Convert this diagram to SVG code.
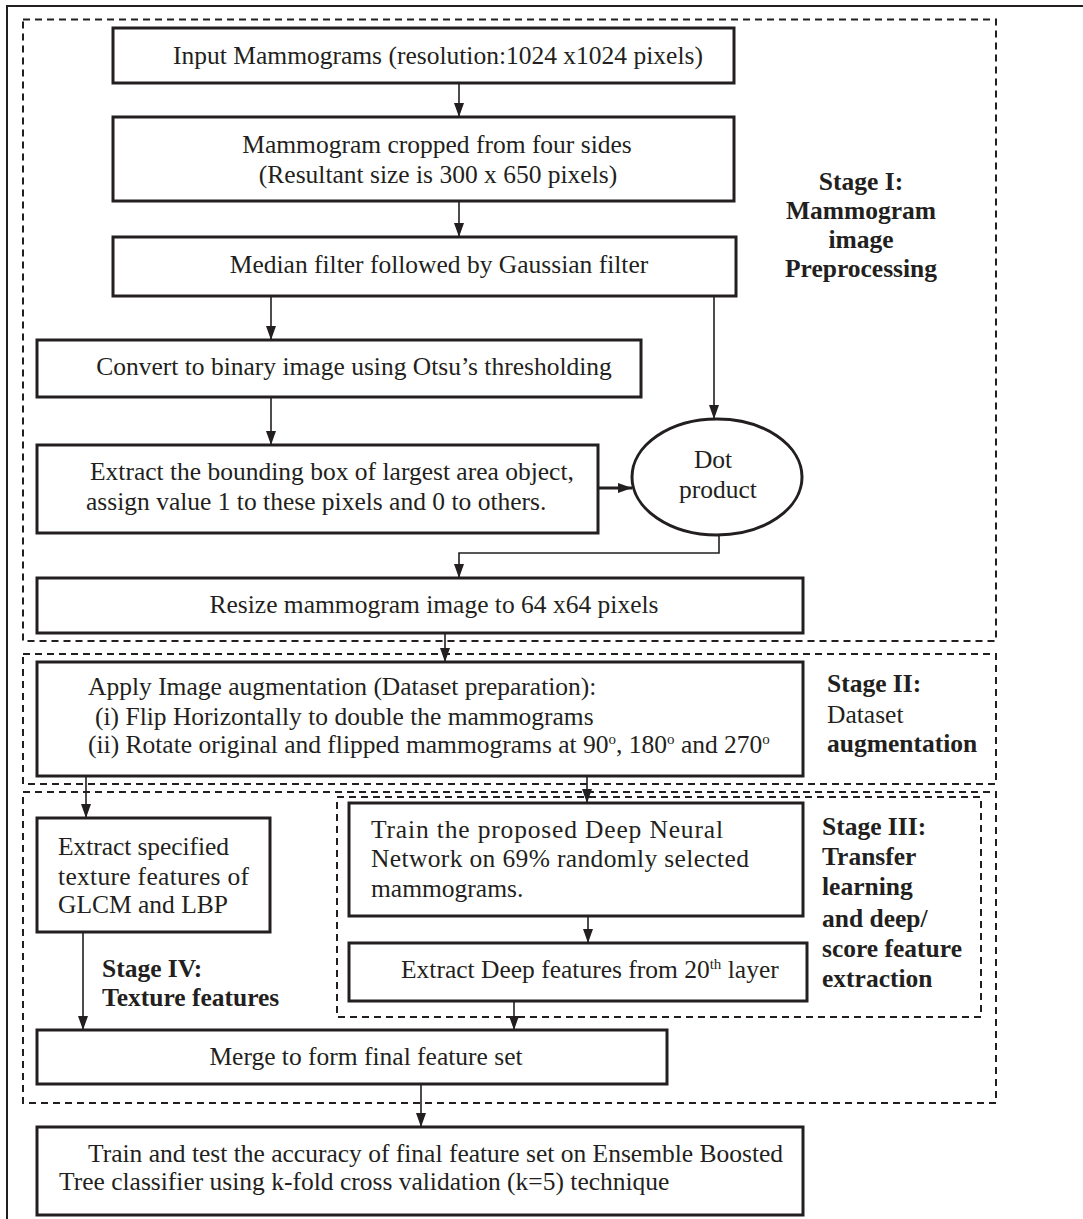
<svg xmlns="http://www.w3.org/2000/svg" width="1083" height="1219" viewBox="0 0 1083 1219">
<style>
  text { font-family: "Liberation Serif", "Times New Roman", serif; font-size: 25.5px; fill: #231f20; }
  .c { text-anchor: middle; }
  .b { font-weight: bold; }
  .box { fill: #fff; stroke: #231f20; stroke-width: 3; }
  .stage { fill: none; stroke: #231f20; stroke-width: 2; stroke-dasharray: 7 5; }
  .conn { fill: none; stroke: #231f20; stroke-width: 1.6; marker-end: url(#arr); }
</style>
<defs>
  <marker id="arr" markerUnits="userSpaceOnUse" markerWidth="14" markerHeight="10" viewBox="0 0 14 10" refX="14" refY="5" orient="auto">
    <path d="M0,0 L14,5 L0,10 z" fill="#231f20"/>
  </marker>
</defs>
<rect width="1083" height="1219" fill="#fff"/>
<path d="M7,1219 V6 H1083" fill="none" stroke="#231f20" stroke-width="2"/>

<g id="stages">
  <rect class="stage" x="23" y="19.5" width="973" height="621.5"/>
  <rect class="stage" x="23" y="654" width="973" height="130"/>
  <rect class="stage" x="23" y="792" width="973" height="311"/>
  <rect class="stage" x="337" y="797" width="644" height="220"/>
</g>

<g id="connectors">
  <path class="conn" d="M459,83 V117"/>
  <path class="conn" d="M459,201 V237"/>
  <path class="conn" d="M271,296 V340"/>
  <path class="conn" d="M714,296 V419"/>
  <path class="conn" d="M271,397 V445"/>
  <path class="conn" d="M598,488 H632" style="stroke-width:3"/>
  <path class="conn" d="M719,536 V553 H459 V578"/>
  <path class="conn" d="M445,633 V662"/>
  <path class="conn" d="M86,776 V818"/>
  <path class="conn" d="M587,776 V803"/>
  <path class="conn" d="M588,916 V943"/>
  <path class="conn" d="M83,932 V1030"/>
  <path class="conn" d="M514,1001 V1030"/>
  <path class="conn" d="M421,1084 V1127"/>
</g>

<g id="n1"><rect class="box" x="113" y="28" width="621" height="55"/>
  <text class="c" x="438" y="64">Input Mammograms (resolution:1024 x1024 pixels)</text></g>
<g id="n2"><rect class="box" x="113" y="117" width="621" height="84"/>
  <text class="c" x="437" y="153">Mammogram cropped from four sides</text>
  <text class="c" x="438" y="183">(Resultant size is 300 x 650 pixels)</text></g>
<g id="n3"><rect class="box" x="113" y="237" width="623" height="59"/>
  <text class="c" x="439" y="273">Median filter followed by Gaussian filter</text></g>
<g id="stage1-label">
  <text class="c b" x="861" y="190">Stage I:</text>
  <text class="c b" x="861" y="219">Mammogram</text>
  <text class="c b" x="861" y="248">image</text>
  <text class="c b" x="861" y="277">Preprocessing</text></g>
<g id="n4"><rect class="box" x="37" y="340" width="604" height="57"/>
  <text class="c" x="354" y="375">Convert to binary image using Otsu’s thresholding</text></g>
<g id="n5"><rect class="box" x="37" y="445" width="561" height="88"/>
  <text x="90" y="480">Extract the bounding box of largest area object,</text>
  <text x="86" y="510">assign value 1 to these pixels and 0 to others.</text></g>
<g id="n-dot"><ellipse cx="717" cy="477" rx="85" ry="58" fill="#fff" stroke="#231f20" stroke-width="3"/>
  <text class="c" x="713" y="468">Dot</text>
  <text class="c" x="718" y="498">product</text></g>
<g id="n6"><rect class="box" x="37" y="578" width="766" height="55"/>
  <text class="c" x="434" y="613">Resize mammogram image to 64 x64 pixels</text></g>

<g id="n7"><rect class="box" x="37" y="662" width="766" height="114"/>
  <text x="88" y="695">Apply Image augmentation (Dataset preparation):</text>
  <text x="95" y="725">(i) Flip Horizontally to double the mammograms</text>
  <text x="88" y="753">(ii) Rotate original and flipped mammograms at 90<tspan font-size="15" dy="-9">o</tspan><tspan dy="9">, 180</tspan><tspan font-size="15" dy="-9">o</tspan><tspan dy="9"> and 270</tspan><tspan font-size="15" dy="-9">o</tspan></text></g>
<g id="stage2-label">
  <text class="b" x="827" y="692">Stage II:</text>
  <text x="827" y="723">Dataset</text>
  <text class="b" x="827" y="752">augmentation</text></g>

<g id="n8"><rect class="box" x="37" y="818" width="233" height="114"/>
  <text x="58" y="855" textLength="171" lengthAdjust="spacing">Extract specified</text>
  <text x="58" y="885" textLength="191" lengthAdjust="spacing">texture features of</text>
  <text x="58" y="913">GLCM and LBP</text></g>
<g id="n9"><rect class="box" x="349" y="803" width="454" height="113"/>
  <text x="371" y="838" textLength="352" lengthAdjust="spacing">Train the proposed Deep Neural</text>
  <text x="371" y="867" textLength="378" lengthAdjust="spacing">Network on 69% randomly selected</text>
  <text x="371" y="897">mammograms.</text></g>
<g id="stage3-label">
  <text class="b" x="822" y="835">Stage III:</text>
  <text class="b" x="822" y="865">Transfer</text>
  <text class="b" x="822" y="895">learning</text>
  <text class="b" x="822" y="927">and deep/</text>
  <text class="b" x="822" y="957">score feature</text>
  <text class="b" x="822" y="987">extraction</text></g>
<g id="n10"><rect class="box" x="349" y="943" width="458" height="58"/>
  <text x="401" y="978">Extract Deep features from 20<tspan font-size="15" dy="-9">th</tspan><tspan dy="9"> layer</tspan></text></g>
<g id="stage4-label">
  <text class="b" x="102" y="977">Stage IV:</text>
  <text class="b" x="102" y="1006">Texture features</text></g>
<g id="n11"><rect class="box" x="37" y="1030" width="630" height="54"/>
  <text class="c" x="366" y="1065">Merge to form final feature set</text></g>
<g id="n12"><rect class="box" x="37" y="1127" width="766" height="88"/>
  <text x="88" y="1162">Train and test the accuracy of final feature set on Ensemble Boosted</text>
  <text x="59" y="1190">Tree classifier using k-fold cross validation (k=5) technique</text></g>
</svg>
